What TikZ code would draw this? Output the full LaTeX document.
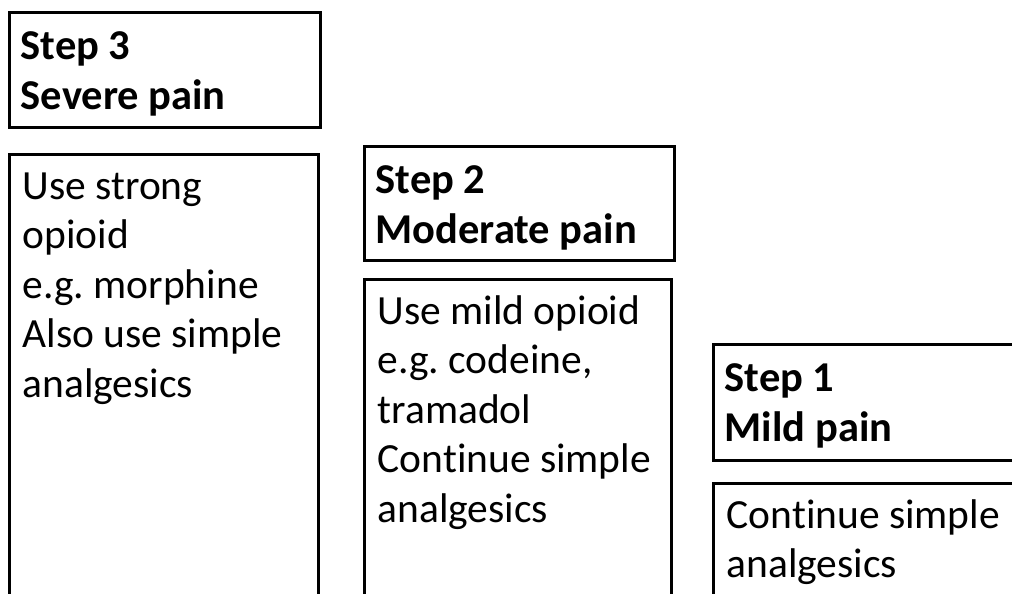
\documentclass[tikz,border=0pt]{standalone}
\usepackage{fontspec}
\setmainfont{Carlito}[Ligatures=NoCommon]
\newcommand{\steplines}[1]{\begin{tabular}[t]{@{}l@{}}#1\end{tabular}}
\tikzset{
  stepbox/.style={draw,line width=2.5pt,rectangle,inner sep=0pt,outer sep=0pt,anchor=north west},
  headtxt/.style={anchor=base west,inner sep=0pt,font=\fontsize{42.5}{50}\selectfont\bfseries},
  bodytxt/.style={anchor=base west,inner sep=0pt,font=\fontsize{41.5}{49.5}\selectfont}
}
\begin{document}
\begin{tikzpicture}[x=1pt,y=-1pt]
    \useasboundingbox (0,0) rectangle (1012,594);
    \clip (0,0) rectangle (1012,594);

    %Step 3
    \node[stepbox,minimum width=311pt,minimum height=115pt] (s3head) at (9.5,12.5) {};
    \node[stepbox,minimum width=309pt,minimum height=470pt] (s3body) at (9.5,154.5) {};
    \node[headtxt] (s3title) at ([shift={(11,47)}]s3head.north west) {\steplines{Step 3\\Severe pain}};
    \node[bodytxt] (s3text) at ([shift={(13,44.5)}]s3body.north west)
        {\steplines{Use strong\\opioid\\e.g.\ morphine\\Also use simple\\analgesics}};

    %Step 2
    \node[stepbox,minimum width=310pt,minimum height=114pt] (s2head) at (364.5,146.5) {};
    \node[stepbox,minimum width=307pt,minimum height=350pt] (s2body) at (364.5,279.5) {};
    \node[headtxt] (s2title) at ([shift={(11,47)}]s2head.north west) {\steplines{Step 2\\Moderate pain}};
    \node[bodytxt] (s2text) at ([shift={(13,44.5)}]s2body.north west)
        {\steplines{Use mild opioid\\e.g.\ codeine,\\tramadol\\Continue simple\\analgesics}};

    %Step 1
    \node[stepbox,minimum width=320pt,minimum height=116pt] (s1head) at (713.5,344.5) {};
    \node[stepbox,minimum width=320pt,minimum height=150pt] (s1body) at (713.5,483.5) {};
    \node[headtxt] (s1title) at ([shift={(11,47)}]s1head.north west) {\steplines{Step 1\\Mild pain}};
    \node[bodytxt] (s1text) at ([shift={(13,44.5)}]s1body.north west)
        {\steplines{Continue simple\\analgesics}};

\end{tikzpicture}
\end{document}
